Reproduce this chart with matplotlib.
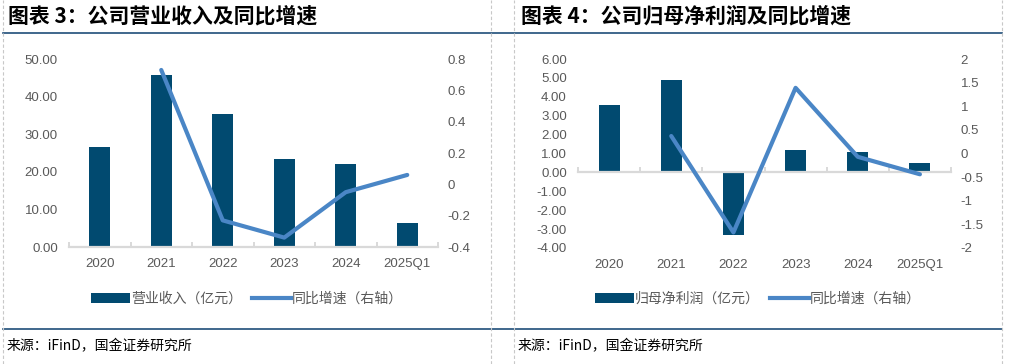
import numpy as np
import matplotlib
matplotlib.use("Agg")
import matplotlib.pyplot as plt
from matplotlib.patches import Patch
from matplotlib.lines import Line2D
from matplotlib.ticker import FuncFormatter, MultipleLocator, FixedLocator

plt.rcParams['font.family'] = ['Liberation Sans', 'Noto Sans CJK SC', 'DejaVu Sans']

# ---------------- data ----------------
categories = ['2020', '2021', '2022', '2023', '2024', '2025Q1']

revenue = [26.5, 45.7, 35.3, 23.4, 22.1, 6.3]            # 营业收入（亿元）
revenue_yoy = [np.nan, 0.73, -0.23, -0.34, -0.05, 0.06]  # 同比增速（右轴）

profit = [3.58, 4.89, -3.31, 1.20, 1.10, 0.51]            # 归母净利润（亿元）
profit_yoy = [np.nan, 0.37, -1.67, 1.39, -0.07, -0.44]   # 同比增速（右轴）

title_left = '图表 3：公司营业收入及同比增速'
title_right = '图表 4：公司归母净利润及同比增速'
bar_label_left = '营业收入（亿元）'
bar_label_right = '归母净利润（亿元）'
line_label = '同比增速（右轴）'
source_text = '来源：iFinD，国金证券研究所'

# ---------------- style ----------------
BAR_COLOR = '#014A70'
LINE_COLOR = '#4A86C6'
TEXT_GRAY = '#595959'
AXIS_GRAY = '#D9D9D9'
RULE_COLOR = '#1F4E79'
W, H = 1010, 364

fig = plt.figure(figsize=(W / 100, H / 100), dpi=100)


def fx(px):
    return px / W


def fy(py):
    return 1 - py / H


def draw_panel(rect, bars, growth, ylim_l, ystep_l, ylim_r, ystep_r):
    ax = fig.add_axes(rect)
    x = np.arange(len(categories))
    ax.bar(x, bars, width=0.34, color=BAR_COLOR, zorder=2)
    ax.set_xlim(-0.5, len(categories) - 0.5)
    ax.set_ylim(*ylim_l)
    ax.yaxis.set_major_locator(MultipleLocator(ystep_l))
    ax.yaxis.set_major_formatter(FuncFormatter(lambda v, p: f'{v:.2f}'))
    for s in ['top', 'right', 'left']:
        ax.spines[s].set_visible(False)
    ax.spines['bottom'].set_position(('data', 0))
    ax.spines['bottom'].set_color(AXIS_GRAY)
    ax.spines['bottom'].set_linewidth(1.6)
    ax.spines['bottom'].set_zorder(3)
    ax.xaxis.set_major_locator(FixedLocator(x))
    ax.xaxis.set_minor_locator(FixedLocator(np.arange(len(categories) + 1) - 0.5))
    ax.tick_params(axis='x', which='major', length=0, labelbottom=False)
    ax.tick_params(axis='x', which='minor', direction='in', length=3.5,
                   width=1.4, color=AXIS_GRAY)
    ax.tick_params(axis='y', length=0, pad=8, labelsize=9.5, labelcolor=TEXT_GRAY)
    ax.patch.set_visible(False)

    sax = ax.secondary_xaxis(0.0)
    sax.set_xticks(x, labels=categories)
    sax.spines['bottom'].set_visible(False)
    sax.tick_params(length=0, pad=8, labelsize=9.5, labelcolor=TEXT_GRAY)

    ax2 = ax.twinx()
    ax2.plot(x, growth, color=LINE_COLOR, lw=3, solid_capstyle='round',
             solid_joinstyle='round')
    ax2.set_ylim(*ylim_r)
    ax2.yaxis.set_major_locator(MultipleLocator(ystep_r))
    ax2.yaxis.set_major_formatter(FuncFormatter(lambda v, p: f'{round(v, 6):g}'))
    for s in ax2.spines.values():
        s.set_visible(False)
    ax2.tick_params(axis='y', length=0, pad=7, labelsize=9.5, labelcolor=TEXT_GRAY)
    return ax, ax2


# left panel: plot area x 69..438, y 59..247
draw_panel([fx(69), fy(247), fx(438 - 69), (247 - 59) / H],
           revenue, revenue_yoy, (0, 50), 10, (-0.4, 0.8), 0.2)
# right panel: plot area x 578..951, y 59..248
draw_panel([fx(578), fy(248), fx(951 - 578), (248 - 59) / H],
           profit, profit_yoy, (-4, 6), 1, (-2, 2), 0.5)

# titles
fig.text(fx(8), fy(16), title_left, fontsize=15, fontweight='bold',
         family=['Noto Sans CJK SC'], ha='left', va='center', color='black')
fig.text(fx(521), fy(16), title_right, fontsize=15, fontweight='bold',
         family=['Noto Sans CJK SC'], ha='left', va='center', color='black')

# rules
fig.add_artist(Line2D([fx(3), fx(1002)], [fy(33), fy(33)], color=RULE_COLOR, lw=1.2))
fig.add_artist(Line2D([fx(3), fx(1002)], [fy(329), fy(329)], color=RULE_COLOR, lw=1.2))
for xv in [3, 491, 514, 1002]:
    fig.add_artist(Line2D([fx(xv), fx(xv)], [0, 1], color='#C8C8C8', lw=0.8,
                          ls=(0, (3, 2))))

# legends
for cx, lab in [(247, bar_label_left), (758, bar_label_right)]:
    handles = [Patch(facecolor=BAR_COLOR, edgecolor='none'),
               Line2D([0], [0], color=LINE_COLOR, lw=3)]
    fig.legend(handles, [lab, line_label], loc='center',
               bbox_to_anchor=(fx(cx), fy(299)), ncol=2, frameon=False,
               labelcolor=TEXT_GRAY, handlelength=2.8,
               handleheight=0.75, handletextpad=0.1, columnspacing=0.7,
               prop={'family': ['Noto Sans CJK SC'], 'size': 10})

# sources
fig.text(fx(7), fy(346), source_text, fontsize=10, family=['Noto Sans CJK SC'],
         ha='left', va='center', color='black')
fig.text(fx(518), fy(346), source_text, fontsize=10, family=['Noto Sans CJK SC'],
         ha='left', va='center', color='black')

fig.savefig('out.png', dpi=100)
